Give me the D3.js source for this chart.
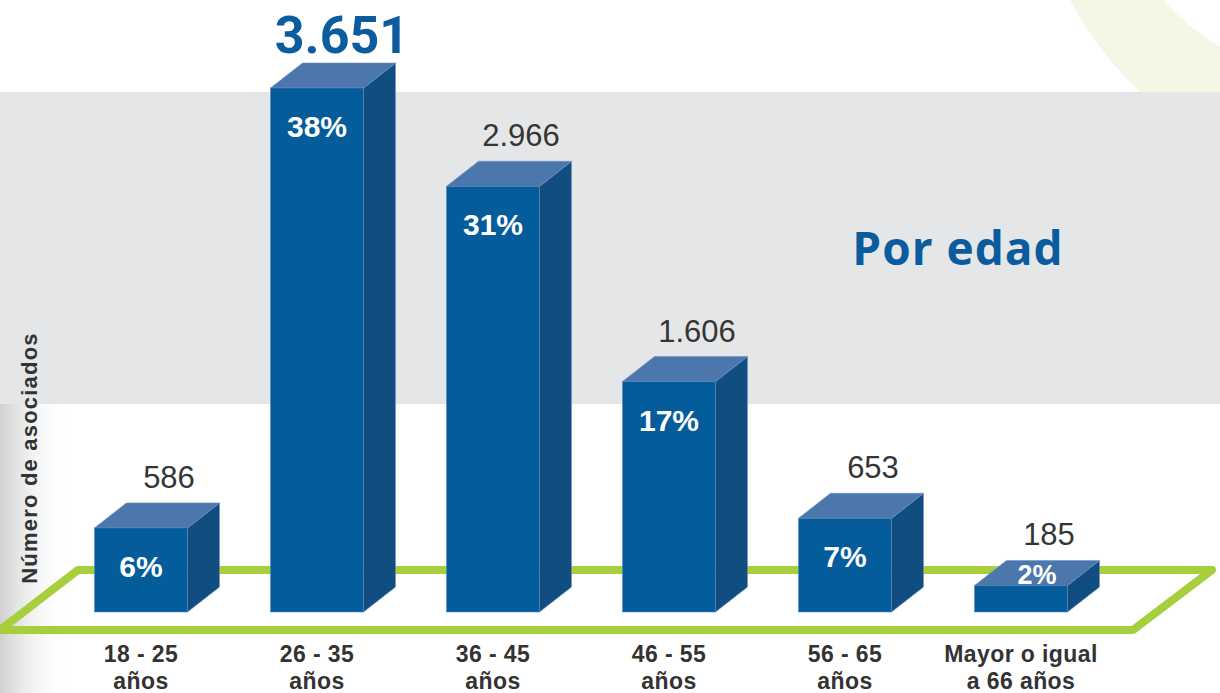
<!DOCTYPE html>
<html>
<head>
<meta charset="utf-8">
<script src="https://cdn.jsdelivr.net/npm/d3@7"></script>
<style>
  body { margin: 0; background: #fff; }
  svg { display: block; }
</style>
</head>
<body>
<script>
// data
const categories = ["18 - 25|años", "26 - 35|años", "36 - 45|años", "46 - 55|años", "56 - 65|años", "Mayor o igual|a 66 años"];
const asociados = [586, 3651, 2966, 1606, 653, 185];
const porcentajes = ["6%", "38%", "31%", "17%", "7%", "2%"];
const valueLabels = ["586", "3.651", "2.966", "1.606", "653", "185"];

const width = 1220, height = 693;
const barW = 93, dx = 32, dy = 25;
const base = 612;

const svg = d3.select("body").append("svg")
  .attr("width", width)
  .attr("height", height);

const defs = svg.append("defs");
const grad = defs.append("linearGradient").attr("id", "leftShade")
  .attr("x1", 0).attr("x2", 1).attr("y1", 0).attr("y2", 0);
grad.append("stop").attr("offset", 0).attr("stop-color", "#cfd0d1").attr("stop-opacity", 1);
grad.append("stop").attr("offset", 1).attr("stop-color", "#ffffff").attr("stop-opacity", 0);

// background decoration
svg.append("path")
  .attr("d", "M1070,0 Q1098,52 1140,92 L1220,92 L1220,47 Q1186,26 1163,0 Z")
  .attr("fill", "#f3f7e6");

svg.append("rect")
  .attr("x", 0).attr("y", 92)
  .attr("width", width).attr("height", 312)
  .attr("fill", "#e5e6e8");

svg.append("rect")
  .attr("x", 0).attr("y", 404)
  .attr("width", 70).attr("height", height - 404)
  .attr("fill", "url(#leftShade)");

const x = d3.scalePoint()
  .domain(categories)
  .range([141, 1021]);

const y = d3.scaleLinear()
  .domain([0, d3.max(asociados)])
  .range([base, 88]);

// green floor
svg.append("path")
  .attr("d", `M0,630 L78,570 L1212,570 L1133,630 Z`)
  .attr("fill", "none")
  .attr("stroke", "#a6ce3d")
  .attr("stroke-width", 8)
  .attr("stroke-linejoin", "round");

const data = categories.map((c, i) => ({
  cat: c, value: asociados[i], pct: porcentajes[i], label: valueLabels[i]
}));

const bars = svg.append("g")
  .selectAll("g")
  .data(data)
  .enter().append("g");

// side face
bars.append("path")
  .attr("d", d => {
    const x1 = x(d.cat) + barW / 2, t = y(d.value);
    return `M${x1},${t} L${x1 + dx},${t - dy} L${x1 + dx},${base - dy} L${x1},${base} Z`;
  })
  .attr("fill", "#114d80")
  .attr("stroke", "#6f93bf")
  .attr("stroke-width", 0.6);

// top face
bars.append("path")
  .attr("d", d => {
    const x0 = x(d.cat) - barW / 2, t = y(d.value);
    return `M${x0},${t} L${x0 + dx},${t - dy} L${x0 + barW + dx},${t - dy} L${x0 + barW},${t} Z`;
  })
  .attr("fill", "#4b77ad")
  .attr("stroke", "#6f93bf")
  .attr("stroke-width", 0.6);

// front face
bars.append("rect")
  .attr("x", d => x(d.cat) - barW / 2)
  .attr("y", d => y(d.value))
  .attr("width", barW)
  .attr("height", d => base - y(d.value))
  .attr("fill", "#045c9b")
  .attr("stroke", "#5f87b8")
  .attr("stroke-width", 0.6);

// percentages
bars.append("text")
  .attr("x", d => base - y(d.value) < 40 ? x(d.cat) + dx / 2 : x(d.cat))
  .attr("y", d => base - y(d.value) < 40 ? y(d.value) - 1 : y(d.value) + 49)
  .attr("text-anchor", "middle")
  .attr("fill", "#ffffff")
  .style("font", "bold 30px 'Liberation Sans', Arial, sans-serif")
  .style("font-size", d => base - y(d.value) < 40 ? "27px" : "30px")
  .text(d => d.pct);

// value labels above bars
const maxVal = d3.max(asociados);
bars.append("text")
  .attr("x", d => x(d.cat) + (d.value === maxVal ? 25 : 28))
  .attr("y", d => y(d.value) - dy - (d.value === maxVal ? 10 : 15))
  .attr("text-anchor", "middle")
  .attr("fill", d => d.value === maxVal ? "#0a5c9e" : "#353535")
  .style("font", d => d.value === maxVal
    ? "bold 52px Roboto, sans-serif"
    : "31px 'Liberation Sans', Arial, sans-serif")
  .text(d => d.label);

// category labels
const catText = svg.append("g")
  .attr("text-anchor", "middle")
  .attr("fill", "#333333")
  .style("font", "bold 23px 'Liberation Sans', Arial, sans-serif")
  .style("letter-spacing", "0.4px")
  .selectAll("text")
  .data(categories)
  .enter().append("text")
  .attr("x", d => x(d))
  .attr("y", 662);

catText.selectAll("tspan")
  .data(d => d.split("|").map(s => ({ s, c: d })))
  .enter().append("tspan")
  .attr("x", d => x(d.c))
  .attr("dy", (d, i) => i === 0 ? 0 : 27)
  .text(d => d.s);

// axis title
svg.append("text")
  .attr("transform", "translate(37,458) rotate(-90)")
  .attr("text-anchor", "middle")
  .attr("fill", "#333333")
  .style("font", "bold 22px 'Liberation Sans', Arial, sans-serif")
  .style("letter-spacing", "1.2px")
  .text("Número de asociados");

// title
svg.append("text")
  .attr("x", 958)
  .attr("y", 265)
  .attr("text-anchor", "middle")
  .attr("fill", "#0a5c9e")
  .style("font", "bold 46px 'Open Sans', sans-serif")
  .style("letter-spacing", "1px")
  .text("Por edad");
</script>
</body>
</html>
